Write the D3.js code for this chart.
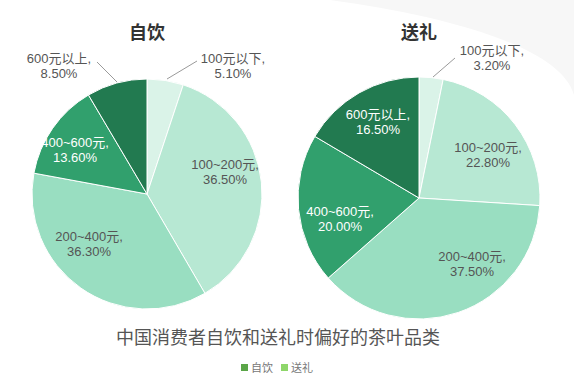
<!DOCTYPE html>
<html>
<head>
<meta charset="utf-8">
<script src="https://cdn.jsdelivr.net/npm/d3@7"></script>
<style>
  html, body { margin: 0; padding: 0; background: #fff; }
  svg { display: block; font-family: "Liberation Sans", Arial, "Noto Sans CJK SC", sans-serif; }
</style>
</head>
<body>
<div id="chart"></div>
<script>
// categories and values (percent)
const categories = ["100元以下", "100~200元", "200~400元", "400~600元", "600元以上"];
const selfValues = [5.1, 36.5, 36.3, 13.6, 8.5];
const giftValues = [3.2, 22.8, 37.5, 20.0, 16.5];
const pieTitles = ["自饮", "送礼"];
const chartTitle = "中国消费者自饮和送礼时偏好的茶叶品类";

const sliceColors = ["#daf3e8", "#b7e8d3", "#99dec1", "#31a06d", "#227a50"];
const legendColors = ["#5aa548", "#8ed66a"];

const width = 574, height = 385;

const svg = d3.select("#chart")
    .append("svg")
    .attr("width", width)
    .attr("height", height);

// faint background watermark
svg.append("path")
    .attr("d", "M330,0 C440,15 560,45 574,95 L574,0 Z")
    .attr("fill", "#f7f7f7");

// label offsets from pie centre, [dx, dy]; outside labels get a leader line
const pies = [
    {values: selfValues, title: pieTitles[0], cx: 147, cy: 194, r: 115,
     labels: [[86, -128], [78, -22], [-58, 50], [-72, -44], [-88, -128]],
     outside: [true, false, false, false, true],
     leaders: [[[20, -115], [50, -133]], null, null, null, [[-30, -112], [-50, -132]]]},
    {values: giftValues, title: pieTitles[1], cx: 419, cy: 198, r: 121,
     labels: [[73, -140], [69, -43], [53, 66], [-79, 21], [-41, -76]],
     outside: [true, false, false, false, false],
     leaders: [[[14, -121], [36, -140]], null, null, null, null]}
];

const pie = d3.pie().sort(null).value(d => d);

pies.forEach(p => {
    const g = svg.append("g")
        .attr("transform", `translate(${p.cx},${p.cy})`);

    const arc = d3.arc().innerRadius(0).outerRadius(p.r);

    const arcs = pie(p.values);

    g.selectAll("path.slice")
        .data(arcs)
        .join("path")
        .attr("class", "slice")
        .attr("d", arc)
        .attr("fill", (d, i) => sliceColors[i])
        .attr("stroke", "#fff")
        .attr("stroke-width", 1);

    // leader lines
    p.leaders.forEach(l => {
        if (!l) return;
        g.append("path")
            .attr("d", d3.line()(l))
            .attr("fill", "none")
            .attr("stroke", "#9a9a9a")
            .attr("stroke-width", 1);
    });

    // labels
    const lab = g.selectAll("text.lab")
        .data(arcs)
        .join("text")
        .attr("class", "lab")
        .attr("text-anchor", "middle")
        .attr("font-size", 13)
        .attr("fill", (d, i) => (i >= 3 && !p.outside[i] ? "#ffffff" : "#555555"));

    lab.append("tspan")
        .attr("x", (d, i) => p.labels[i][0])
        .attr("y", (d, i) => p.labels[i][1] - 3)
        .text((d, i) => categories[i] + ",");
    lab.append("tspan")
        .attr("x", (d, i) => p.labels[i][0])
        .attr("y", (d, i) => p.labels[i][1] + 12)
        .text(d => d.data.toFixed(2) + "%");

    // pie title
    svg.append("text")
        .attr("x", p.cx)
        .attr("y", 39)
        .attr("text-anchor", "middle")
        .attr("font-size", 18)
        .attr("font-weight", "bold")
        .attr("fill", "#333")
        .text(p.title);
});

// main title
svg.append("text")
    .attr("x", 278)
    .attr("y", 344)
    .attr("text-anchor", "middle")
    .attr("font-size", 18)
    .attr("fill", "#555")
    .text(chartTitle);

// legend
const legend = svg.append("g").attr("transform", "translate(241,368)");
const legendX = [0, 40];
pieTitles.forEach((t, i) => {
    legend.append("rect")
        .attr("x", legendX[i])
        .attr("y", -4)
        .attr("width", 7)
        .attr("height", 7)
        .attr("fill", legendColors[i]);
    legend.append("text")
        .attr("x", legendX[i] + 10)
        .attr("y", 4)
        .attr("font-size", 11)
        .attr("fill", "#777")
        .text(t);
});
</script>
</body>
</html>
